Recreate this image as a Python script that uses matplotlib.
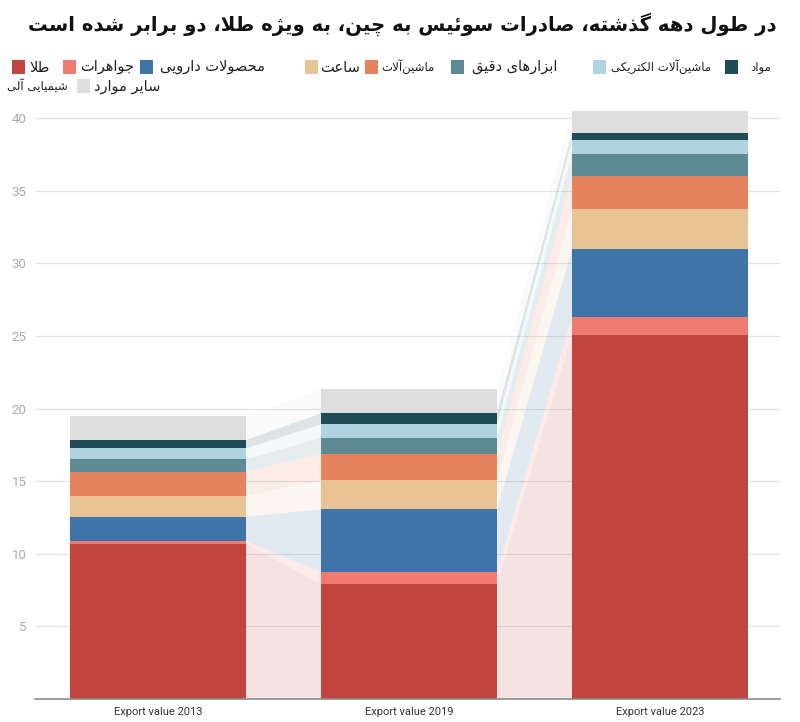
import matplotlib
matplotlib.use("Agg")
import matplotlib.pyplot as plt
from matplotlib.patches import Rectangle, Polygon
import numpy as np

# ---------------- data ----------------
years = ["Export value 2013", "Export value 2019", "Export value 2023"]
categories = ["طلا", "جواهرات", "محصولات دارویی", "ساعت", "ماشین‌آلات",
              "ابزارهای دقیق", "ماشین‌آلات الکتریکی", "مواد شیمیایی آلی", "سایر موارد"]
gold        = [10.67, 7.90, 25.04]
jewelry     = [0.19, 0.86, 1.28]
pharma      = [1.69, 4.30, 4.64]
watches     = [1.43, 2.02, 2.77]
machinery   = [1.67, 1.79, 2.30]
precision   = [0.85, 1.12, 1.51]
electrical  = [0.76, 0.92, 0.97]
chemicals   = [0.57, 0.76, 0.46]
other       = [1.65, 1.65, 1.53]
series = [gold, jewelry, pharma, watches, machinery, precision, electrical, chemicals, other]
colors = ["#c1443e", "#ef7b71", "#3e74a7", "#e8c494", "#e6835f",
          "#5e8b93", "#b0d3e0", "#1f4b57", "#dedede"]
yticks = [5, 10, 15, 20, 25, 30, 35, 40]
title = "در طول دهه گذشته، صادرات سوئیس به چین، به ویژه طلا، دو برابر شده است"

# ---------------- simple Arabic/Persian shaping ----------------
FORMS = {
    '\u0627': ('\uFE8D', '\uFE8E', None, None),
    '\u0622': ('\uFE81', '\uFE82', None, None),
    '\u0628': ('\uFE8F', '\uFE90', '\uFE91', '\uFE92'),
    '\u067E': ('\uFB56', '\uFB57', '\uFB58', '\uFB59'),
    '\u062A': ('\uFE95', '\uFE96', '\uFE97', '\uFE98'),
    '\u062B': ('\uFE99', '\uFE9A', '\uFE9B', '\uFE9C'),
    '\u062C': ('\uFE9D', '\uFE9E', '\uFE9F', '\uFEA0'),
    '\u0686': ('\uFB7A', '\uFB7B', '\uFB7C', '\uFB7D'),
    '\u062D': ('\uFEA1', '\uFEA2', '\uFEA3', '\uFEA4'),
    '\u062E': ('\uFEA5', '\uFEA6', '\uFEA7', '\uFEA8'),
    '\u062F': ('\uFEA9', '\uFEAA', None, None),
    '\u0630': ('\uFEAB', '\uFEAC', None, None),
    '\u0631': ('\uFEAD', '\uFEAE', None, None),
    '\u0632': ('\uFEAF', '\uFEB0', None, None),
    '\u0698': ('\uFB8A', '\uFB8B', None, None),
    '\u0633': ('\uFEB1', '\uFEB2', '\uFEB3', '\uFEB4'),
    '\u0634': ('\uFEB5', '\uFEB6', '\uFEB7', '\uFEB8'),
    '\u0635': ('\uFEB9', '\uFEBA', '\uFEBB', '\uFEBC'),
    '\u0636': ('\uFEBD', '\uFEBE', '\uFEBF', '\uFEC0'),
    '\u0637': ('\uFEC1', '\uFEC2', '\uFEC3', '\uFEC4'),
    '\u0638': ('\uFEC5', '\uFEC6', '\uFEC7', '\uFEC8'),
    '\u0639': ('\uFEC9', '\uFECA', '\uFECB', '\uFECC'),
    '\u063A': ('\uFECD', '\uFECE', '\uFECF', '\uFED0'),
    '\u0641': ('\uFED1', '\uFED2', '\uFED3', '\uFED4'),
    '\u0642': ('\uFED5', '\uFED6', '\uFED7', '\uFED8'),
    '\u06A9': ('\uFB8E', '\uFB8F', '\uFB90', '\uFB91'),
    '\u06AF': ('\uFB92', '\uFB93', '\uFB94', '\uFB95'),
    '\u0644': ('\uFEDD', '\uFEDE', '\uFEDF', '\uFEE0'),
    '\u0645': ('\uFEE1', '\uFEE2', '\uFEE3', '\uFEE4'),
    '\u0646': ('\uFEE5', '\uFEE6', '\uFEE7', '\uFEE8'),
    '\u0647': ('\uFEE9', '\uFEEA', '\uFEEB', '\uFEEC'),
    '\u0648': ('\uFEED', '\uFEEE', None, None),
    '\u06CC': ('\uFBFC', '\uFBFD', '\uFBFE', '\uFBFF'),
    '\u0626': ('\uFE89', '\uFE8A', '\uFE8B', '\uFE8C'),
}
LAMALEF = {'\u0627': ('\uFEFB', '\uFEFC'), '\u0622': ('\uFEF5', '\uFEF6')}


def dual(c):
    return c in FORMS and FORMS[c][2] is not None


def shape(text):
    ch = list(text)
    n = len(ch)
    out = []
    i = 0
    while i < n:
        c = ch[i]
        prev_j = i > 0 and dual(ch[i - 1])
        if c == '\u0644' and i + 1 < n and ch[i + 1] in LAMALEF:
            out.append(LAMALEF[ch[i + 1]][1 if prev_j else 0])
            i += 2
            continue
        if c in FORMS:
            next_j = dual(c) and i + 1 < n and ch[i + 1] in FORMS
            f = FORMS[c]
            if prev_j and next_j:
                out.append(f[3])
            elif prev_j:
                out.append(f[1])
            elif next_j:
                out.append(f[2])
            else:
                out.append(f[0])
        elif c == '\u200c':
            pass
        else:
            out.append(c)
        i += 1
    return ''.join(out[::-1])


# ---------------- figure ----------------
W, H = 800, 722
fig = plt.figure(figsize=(W / 100, H / 100), dpi=100)

def fx(px):
    return px / W

def fy(py):
    return 1 - py / H

ax_left, ax_right = 35, 780
y0_px, unit_px = 699, 14.525
ymax = 41.0
ax_top = y0_px - ymax * unit_px
ax = fig.add_axes([fx(ax_left), fy(y0_px), fx(ax_right - ax_left), (y0_px - ax_top) / H])

x = np.arange(len(years))
bw = 176 / 251
ax.set_xlim(-(158 - ax_left) / 251, 2 + (ax_right - 660) / 251)
ax.set_ylim(0, ymax)

bottoms = np.zeros(len(years))
for vals, col in zip(series, colors):
    vals = np.array(vals)
    tops = bottoms + vals
    ax.bar(x, vals, bottom=bottoms, width=bw, color=col, zorder=3, linewidth=0)
    for j in range(len(years) - 1):
        xl = x[j] + bw / 2
        xr = x[j + 1] - bw / 2
        poly = Polygon([(xl, bottoms[j]), (xr, bottoms[j + 1]), (xr, tops[j + 1]), (xl, tops[j])],
                       closed=True, facecolor=col, alpha=0.15, linewidth=0, zorder=1)
        ax.add_patch(poly)
    bottoms = tops

ax.set_yticks(yticks)
ax.yaxis.grid(True, color="#e4e4e4", linewidth=0.9, zorder=0)
ax.set_axisbelow(True)
for s in ["top", "right", "left"]:
    ax.spines[s].set_visible(False)
ax.spines["bottom"].set_color("#8c8c8c")
ax.spines["bottom"].set_linewidth(1.2)
ax.spines["bottom"].set_zorder(4)
ax.tick_params(axis="y", length=0, pad=6, labelsize=9.5, labelcolor="#ababab")
ax.tick_params(axis="x", length=0, pad=6, labelsize=8, labelcolor="#333333")
ax.set_xticks(x)
ax.set_xticklabels(years, family="Roboto")
for lab in ax.get_yticklabels():
    lab.set_family("Roboto")

# title
fig.text(fx(402), fy(24), shape(title), ha="center", va="center",
         family="DejaVu Sans", fontweight="bold", fontsize=14.1, color="#111111")

# legend (manual, matching reference layout)
big, small = 10.5, 8.5
legend_items = [
    (12, 67, categories[0], 29, big, colors[0]),
    (63, 67, categories[1], 80, big, colors[1]),
    (140, 67, categories[2], 160, big, colors[2]),
    (305, 67, categories[3], 320, big, colors[3]),
    (365, 67, categories[4], 381, small, colors[4]),
    (451, 67, categories[5], 472, big, colors[5]),
    (593, 67, categories[6], 611, small, colors[6]),
    (725, 67, "مواد", 750, small, colors[7]),
    (77, 86, categories[8], 94, big, colors[8]),
]
bs = 13
for bx, by, lab, lx, sz, col in legend_items:
    fig.add_artist(Rectangle((fx(bx), fy(by + bs / 2)), fx(bs), bs / H,
                             transform=fig.transFigure, facecolor=col, edgecolor="none"))
    fig.text(fx(lx), fy(by), shape(lab), ha="left", va="center",
             family="DejaVu Sans", fontsize=sz, color="#222222")
fig.text(fx(7), fy(86), shape("شیمیایی آلی"), ha="left", va="center",
         family="DejaVu Sans", fontsize=small, color="#222222")

fig.savefig("out.png", dpi=100)
